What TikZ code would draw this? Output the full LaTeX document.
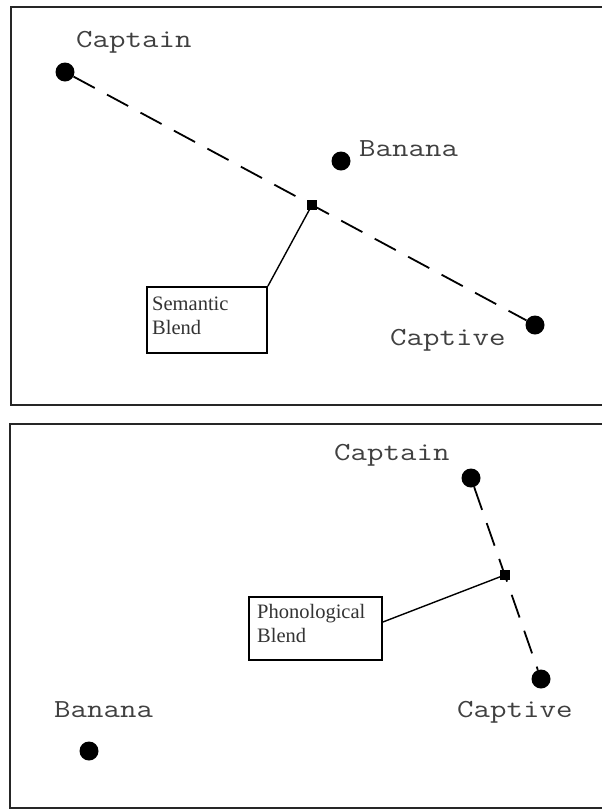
\documentclass[tikz,border=0pt]{standalone}
\usepackage{fontspec}
\usepackage{graphicx}
\setmainfont{Liberation Serif}
\usetikzlibrary{calc}
\newcommand{\wlab}[1]{\scalebox{1.23}[1]{\ttfamily\fontsize{26}{30}\selectfont #1}}
\tikzset{
  dotnode/.style={circle, fill=black, draw=none, minimum size=19pt, inner sep=0pt},
  sqnode/.style={rectangle, fill=black, draw=none, minimum size=10pt, inner sep=0pt},
  wordlabel/.style={anchor=base west, inner sep=0pt, text=black!75},
  dashline/.style={draw=black, line width=1.8pt, dash pattern=on 24pt off 14pt},
  leader/.style={draw=black, line width=1.4pt},
  blendbox/.style={rectangle, draw=black, line width=1.8pt, fill=white, inner sep=0pt},
  blendtext/.style={anchor=north west, inner sep=0pt, align=left, text=black!80, font=\fontsize{20.5}{24}\selectfont},
  framepath/.style={draw=black!85, line width=1.8pt}
}
\begin{document}
\begin{tikzpicture}[x=1pt, y=-1pt]
\useasboundingbox[fill=white] (0,0) rectangle (602,812);
% frames
\draw[framepath] (602,7) -- (11,7) -- (11,405) -- (602,405);
\draw[framepath] (602,424) -- (10,424) -- (10,808) -- (602,808);

% ---------- top panel (semantic) ----------
\node[dotnode] (capT) at (65,72) {};
\node[dotnode] (banT) at (341,161) {};
\node[dotnode] (cvT) at (535,325) {};
\node[wordlabel] (capTl) at (76,47) {\wlab{Captain}};
\node[wordlabel] (banTl) at (359,156) {\wlab{Banana}};
\node[wordlabel] (cvTl) at (390,345) {\wlab{Captive}};
\draw[dashline] (capT) -- (cvT);
\node[sqnode] (sbT) at ($(capT.center)!0.5255!(cvT.center)$) {};
\node[blendbox, minimum width=120pt, minimum height=66pt] (sembox) at (207,320) {};
\node[blendtext] (semtxt) at (152,296.5) {Semantic\\Blend};
\draw[leader] (sbT.center) -- (sembox.north east);

% ---------- bottom panel (phonological) ----------
\node[dotnode] (capB) at (471,478) {};
\node[dotnode] (cvB) at (541,679) {};
\node[dotnode] (banB) at (89,751) {};
\node[wordlabel] (capBl) at (334,460) {\wlab{Captain}};
\node[wordlabel] (cvBl) at (457,717) {\wlab{Captive}};
\node[wordlabel] (banBl) at (54,717) {\wlab{Banana}};
\draw[dashline] (capB) -- (cvB);
\node[sqnode] (sbB) at ($(capB.center)!0.4826!(cvB.center)$) {};
\node[blendbox, minimum width=133pt, minimum height=63pt] (phbox) at (315.5,628.5) {};
\node[blendtext] (phtxt) at (257,604) {Phonological\\Blend};
\draw[leader] (sbB.center) -- ([yshift=6.5pt]phbox.east);
\end{tikzpicture}
\end{document}
